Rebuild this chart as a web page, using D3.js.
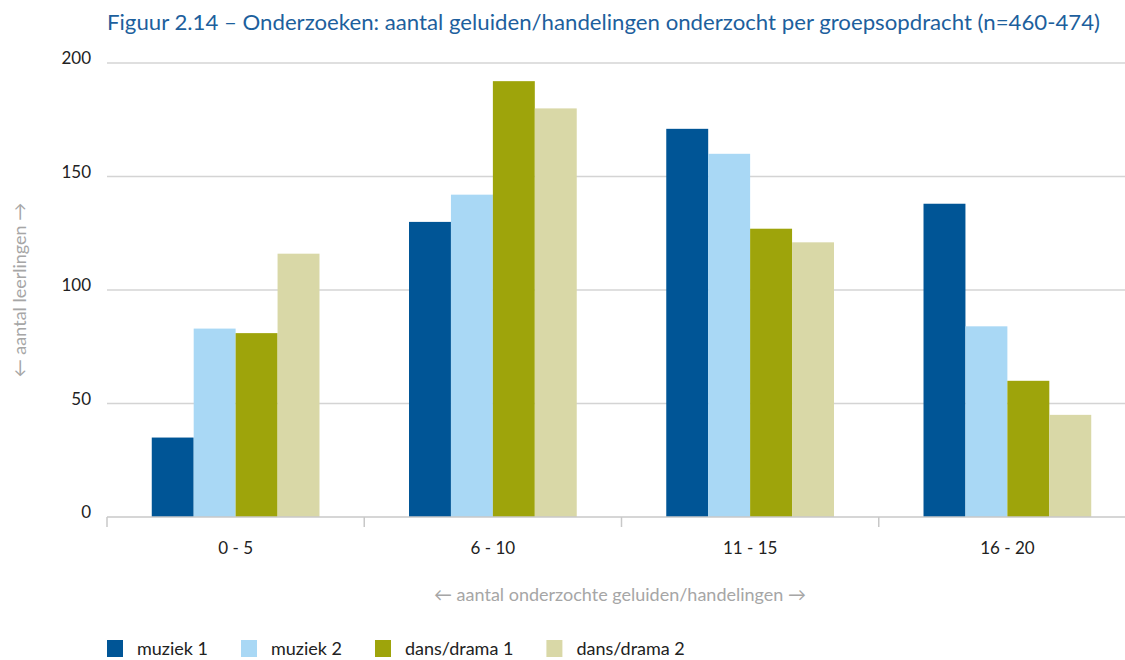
<!DOCTYPE html>
<html>
<head>
<meta charset="utf-8">
<script src="https://cdn.jsdelivr.net/npm/d3@7"></script>
<style>
  body { margin: 0; background: #fff; }
  text { font-family: Lato, "Open Sans", sans-serif; }
</style>
</head>
<body>
<svg id="chart"></svg>
<script>
const categories = ["0 - 5", "6 - 10", "11 - 15", "16 - 20"];
const seriesNames = ["muziek 1", "muziek 2", "dans/drama 1", "dans/drama 2"];
const muziek1 = [35, 130, 171, 138];
const muziek2 = [83, 142, 160, 84];
const dansDrama1 = [81, 192, 127, 60];
const dansDrama2 = [116, 180, 121, 45];
const yTicks = [0, 50, 100, 150, 200];
const colors = ["#005596", "#a9d8f5", "#9ea40b", "#d9d8a7"];

const seriesValues = [muziek1, muziek2, dansDrama1, dansDrama2];
const rows = categories.map((c, i) => ({
  cat: c,
  vals: seriesNames.map((s, j) => ({ name: s, value: seriesValues[j][i], color: colors[j] }))
}));

const width = 1125, height = 660;
const plotLeft = 107, plotRight = 1136, plotTop = 63, plotBottom = 517;

const svg = d3.select("#chart").attr("width", width).attr("height", height);

const x0 = d3.scaleBand().domain(categories).range([plotLeft, plotRight]).padding(0);
const pad = x0.bandwidth() * 0.174;
const x1 = d3.scaleBand().domain(seriesNames).range([pad, x0.bandwidth() - pad]).padding(0);
const y = d3.scaleLinear().domain([0, 200]).range([plotBottom, plotTop]);

// title
svg.append("text")
  .attr("x", 107).attr("y", 30)
  .attr("fill", "#1d5f9d")
  .attr("font-size", 21)
  .attr("textLength", 993).attr("lengthAdjust", "spacingAndGlyphs")
  .text("Figuur 2.14 – Onderzoeken: aantal geluiden/handelingen onderzocht per groepsopdracht (n=460-474)");

// grid
svg.append("g")
  .selectAll("line")
  .data(yTicks.filter(d => d > 0))
  .join("line")
  .attr("x1", plotLeft).attr("x2", width)
  .attr("y1", d => y(d)).attr("y2", d => y(d))
  .attr("stroke", "#d4d4d4").attr("stroke-width", 1.5);

// y labels
svg.append("g")
  .selectAll("text")
  .data(yTicks)
  .join("text")
  .attr("x", 91).attr("y", d => y(d) + 1)
  .attr("text-anchor", "end")
  .attr("font-size", 17)
  .attr("fill", "#222")
  .text(d => d);

// bars
svg.append("g")
  .selectAll("g")
  .data(rows)
  .join("g")
  .attr("transform", d => `translate(${x0(d.cat)},0)`)
  .selectAll("rect")
  .data(d => d.vals)
  .join("rect")
  .attr("x", d => x1(d.name))
  .attr("width", x1.bandwidth())
  .attr("y", d => y(d.value))
  .attr("height", d => y(0) - y(d.value))
  .attr("fill", d => d.color);

// x axis
const xAxis = svg.append("g");
xAxis.append("line")
  .attr("x1", plotLeft).attr("x2", width)
  .attr("y1", plotBottom).attr("y2", plotBottom)
  .attr("stroke", "#c8c8c8").attr("stroke-width", 1.5);
xAxis.selectAll(".tk")
  .data(categories)
  .join("line")
  .attr("class", "tk")
  .attr("x1", d => x0(d)).attr("x2", d => x0(d))
  .attr("y1", plotBottom).attr("y2", plotBottom + 10)
  .attr("stroke", "#c8c8c8").attr("stroke-width", 1.5);
xAxis.selectAll(".lbl")
  .data(categories)
  .join("text")
  .attr("class", "lbl")
  .attr("x", d => x0(d) + x0.bandwidth() / 2)
  .attr("y", 554)
  .attr("text-anchor", "middle")
  .attr("font-size", 17)
  .attr("fill", "#222")
  .text(d => d);

// axis titles
svg.append("text")
  .attr("x", 620).attr("y", 601)
  .attr("text-anchor", "middle")
  .attr("font-size", 18)
  .attr("fill", "#a6a6a6")
  .text("← aantal onderzochte geluiden/handelingen →");

svg.append("text")
  .attr("transform", "translate(26,290) rotate(-90)")
  .attr("text-anchor", "middle")
  .attr("font-size", 18)
  .attr("fill", "#a6a6a6")
  .text("← aantal leerlingen →");

// legend
const legend = svg.append("g").attr("transform", "translate(107,640)");
let lx = 0;
seriesNames.forEach((s, i) => {
  const g = legend.append("g").attr("transform", `translate(${lx},0)`);
  g.append("rect").attr("width", 16).attr("height", 17).attr("fill", colors[i]);
  const t = g.append("text")
    .attr("x", 30).attr("y", 15)
    .attr("font-size", 18)
    .attr("fill", "#222")
    .text(s);
  lx += 30 + t.node().getComputedTextLength() + 33;
});
</script>
</body>
</html>
